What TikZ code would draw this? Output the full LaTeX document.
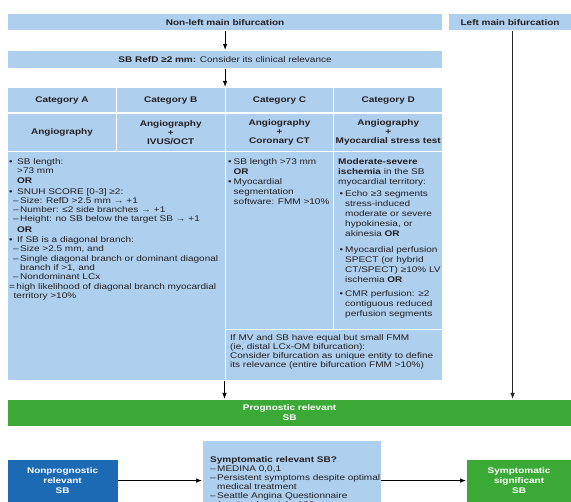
\documentclass[tikz,border=0pt]{standalone}
\usepackage{fontspec}
\setmainfont{Liberation Sans}[FakeStretch=1.22]
\usepackage{tikz}
\usetikzlibrary{arrows.meta,positioning}
\definecolor{ink}{HTML}{231F20}
\definecolor{cellblue}{HTML}{AECFEE}
\definecolor{progreen}{HTML}{3BA935}
\definecolor{deepblue}{HTML}{1C6AB3}
\newcommand{\fs}{\fontsize{8.2}{9.3}\selectfont}
\newcommand{\bl}{\makebox[8pt][l]{\textbullet}}
\newcommand{\ind}{\hspace*{8pt}}
\newcommand{\sub}{\hspace*{4pt}\makebox[7pt][l]{--}}
\newcommand{\subind}{\hspace*{11pt}}
\newcommand{\dbl}{\hspace*{1.5pt}\makebox[5.5pt][l]{\textbullet}}
\newcommand{\dind}{\hspace*{7pt}}
\newcommand{\dsh}{\makebox[7pt][l]{--}}

\begin{document}
\begin{tikzpicture}[x=1pt,y=-1pt,font=\fs,
  cell/.style={fill=cellblue,draw=white,line width=1.2pt,inner sep=0pt,
    anchor=north west,align=center,text=ink,font=\fs\bfseries},
  txt/.style={inner sep=0pt,anchor=north west,align=left,text=ink},
  arr/.style={-{Latex[length=6pt,width=4.5pt]},line width=0.9pt,black}]
  \useasboundingbox (0,0) rectangle (571,502);
  \clip (0,0) rectangle (571,502);

  % Top: the two kinds of bifurcation.
  \node[cell,minimum width=435pt,minimum height=17pt] (nonleft) at (7,13)
    {Non-left main bifurcation};
  \node[cell,minimum width=123pt,minimum height=17pt] (leftmain) at (448,13)
    {Left main bifurcation};
  \node[cell,minimum width=435pt,minimum height=18pt,font=\fs] (refd) at (7,50)
    {\textbf{SB RefD ≥2 mm:} Consider its clinical relevance};

  % Table: categories and the tests behind them.
  \foreach \nm/\xx/\lab in {catA/7/Category A,catB/115.75/Category B,
    catC/224.5/Category C,catD/333.25/Category D}{
    \node[cell,minimum width=108.75pt,minimum height=25.5pt] (\nm) at (\xx,87) {\lab};
  }
  \foreach \nm/\xx/\lab in {angA/7/{Angiography},angB/115.75/{Angiography\\+\\IVUS/OCT},
    angC/224.5/{Angiography\\+\\Coronary CT},angD/333.25/{Angiography\\+\\Myocardial stress test}}{
    \node[cell,minimum width=108.75pt,minimum height=38.5pt,
      font=\fontsize{8.2}{8.8}\selectfont\bfseries] (\nm) at (\xx,112.5) {\lab};
  }
  \node[cell,minimum width=217.5pt,minimum height=229pt] (critAB) at (7,151) {};
  \node[cell,minimum width=108.75pt,minimum height=178pt] (critC) at (224.5,151) {};
  \node[cell,minimum width=108.75pt,minimum height=178pt] (critD) at (333.25,151) {};
  \node[cell,minimum width=217.5pt,minimum height=51pt] (fmm) at (224.5,329) {};

  \node[txt] (critABtxt) at (9,158.5) {%
    \bl SB length:\\
    \ind >73 mm\\
    \ind\textbf{OR}\\[1.5pt]
    \bl SNUH SCORE [0-3] ≥2:\\
    \sub Size: RefD >2.5 mm → +1\\
    \sub Number: ≤2 side branches → +1\\
    \sub Height: no SB below the target SB → +1\\[1pt]
    \ind\textbf{OR}\\[1pt]
    \bl If SB is a diagonal branch:\\
    \sub Size >2.5 mm, and\\
    \sub Single diagonal branch or dominant diagonal\\
    \subind branch if >1, and\\
    \sub Nondominant LCx\\
    \makebox[4.5pt][l]{=} high likelihood of diagonal branch myocardial\\
    \hspace*{4.5pt}territory >10\%};
  \node[txt,font=\fontsize{8.2}{10}\selectfont] (critCtxt) at (228,158.5) {%
    \makebox[5.5pt][l]{\textbullet}SB length >73 mm\\
    \hspace*{5.5pt}\textbf{OR}\\
    \makebox[5.5pt][l]{\textbullet}Myocardial\\
    \hspace*{5.5pt}segmentation\\
    \hspace*{5.5pt}software: FMM >10\%};
  \node[txt,font=\fontsize{8.2}{10}\selectfont] (critDtxt) at (338,158.5) {%
    \textbf{Moderate-severe}\\
    \textbf{ischemia} in the SB\\
    myocardial territory:\\[2pt]
    \dbl Echo ≥3 segments\\
    \dind stress-induced\\
    \dind moderate or severe\\
    \dind hypokinesia, or\\
    \dind akinesia \textbf{OR}\\[5.5pt]
    \dbl Myocardial perfusion\\
    \dind SPECT (or hybrid\\
    \dind CT/SPECT) ≥10\% LV\\
    \dind ischemia \textbf{OR}\\[4.5pt]
    \dbl CMR perfusion: ≥2\\
    \dind contiguous reduced\\
    \dind perfusion segments};
  \node[txt,font=\fontsize{8.2}{8.8}\selectfont] (fmmtxt) at (230,334.5) {%
    If MV and SB have equal but small FMM\\
    (ie, distal LCx-OM bifurcation):\\
    Consider bifurcation as unique entity to define\\
    its relevance (entire bifurcation FMM >10\%)};

  % Outcome bar.
  \node[cell,draw=none,fill=progreen,text=white,minimum width=564pt,minimum height=26pt,
    font=\fontsize{8.2}{10}\selectfont\bfseries] (prog) at (7,399) {Prognostic relevant\\SB};

  \draw[arr] (nonleft) -- (refd);
  \draw[arr] (refd.south) -- (refd.south |- catB.north);
  \draw[arr] (fmm.south west) -- (fmm.south west |- prog.north);
  \draw[arr,line width=0.8pt,black!85] ([xshift=2.5pt]leftmain.south)
    -- ([xshift=2.5pt]leftmain.south |- prog.north);

  % Bottom row.
  \node[cell,draw=none,fill=deepblue,text=white,minimum width=110pt,minimum height=42pt,
    font=\fontsize{8.2}{10}\selectfont\bfseries] (nonprog) at (7,459)
    {Nonprognostic\\relevant\\SB};
  \node[cell,draw=none,minimum width=178pt,minimum height=80pt] (symrel) at (202,440) {};
  \node[txt,font=\fontsize{8.2}{9}\selectfont] (symreltxt) at (210,456.5) {%
    \textbf{Symptomatic relevant SB?}\\
    \dsh MEDINA 0,0,1\\
    \dsh Persistent symptoms despite optimal\\
    \hspace*{7pt}medical treatment\\
    \dsh Seattle Angina Questionnaire\\
    \hspace*{7pt}(angina domain) ≤100};
  \node[cell,draw=none,fill=progreen,text=white,minimum width=105pt,minimum height=42pt,
    font=\fontsize{8.2}{10}\selectfont\bfseries] (symsig) at (466,459)
    {Symptomatic\\significant\\SB};

  \draw[arr,line width=0.7pt] (nonprog.east) -- (nonprog.east -| symrel.west);
  \draw[arr,line width=0.7pt] (symrel.east |- symsig.west) -- (symsig.west);
\end{tikzpicture}
\end{document}
